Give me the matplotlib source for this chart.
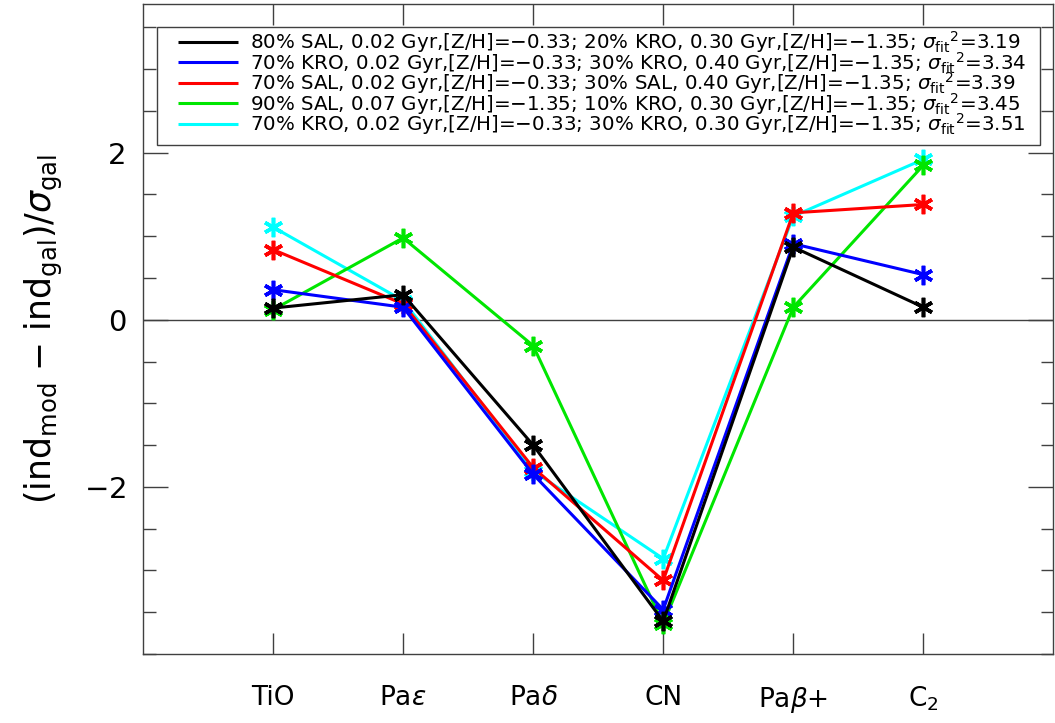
import matplotlib
matplotlib.use('Agg')
import matplotlib.pyplot as plt
from matplotlib.ticker import MultipleLocator, FixedLocator
from matplotlib.patches import Rectangle

# index names along x
indices = ['TiO', r'Pa$\epsilon$', r'Pa$\delta$', 'CN', r'Pa$\beta$+', r'C$_2$']
xpos = [1, 2, 3, 4, 5, 6]

# (ind_mod - ind_gal)/sigma_gal for each model fit
black_vals = [0.14, 0.30, -1.50, -3.61, 0.87, 0.15]
blue_vals = [0.36, 0.15, -1.85, -3.47, 0.91, 0.54]
red_vals = [0.84, 0.19, -1.77, -3.12, 1.28, 1.38]
green_vals = [0.12, 0.98, -0.31, -3.64, 0.15, 1.85]
cyan_vals = [1.11, 0.23, -1.81, -2.86, 1.24, 1.92]

labels = [
  r'80% SAL, 0.02 Gyr,[Z/H]=$-$0.33; 20% KRO, 0.30 Gyr,[Z/H]=$-$1.35; $\sigma_{\rm fit}{}^{2}$=3.19',
  r'70% KRO, 0.02 Gyr,[Z/H]=$-$0.33; 30% KRO, 0.40 Gyr,[Z/H]=$-$1.35; $\sigma_{\rm fit}{}^{2}$=3.34',
  r'70% SAL, 0.02 Gyr,[Z/H]=$-$0.33; 30% SAL, 0.40 Gyr,[Z/H]=$-$1.35; $\sigma_{\rm fit}{}^{2}$=3.39',
  r'90% SAL, 0.07 Gyr,[Z/H]=$-$1.35; 10% KRO, 0.30 Gyr,[Z/H]=$-$1.35; $\sigma_{\rm fit}{}^{2}$=3.45',
  r'70% KRO, 0.02 Gyr,[Z/H]=$-$0.33; 30% KRO, 0.30 Gyr,[Z/H]=$-$1.35; $\sigma_{\rm fit}{}^{2}$=3.51',
]
series = [black_vals, blue_vals, red_vals, green_vals, cyan_vals]
colors = ['#000000', '#0000ff', '#ff0000', '#00e600', '#00ffff']

plt.rcParams['mathtext.fontset'] = 'dejavusans'

fig = plt.figure(figsize=(10.55, 7.23), dpi=100)
ax = fig.add_axes([0.1355, 0.0955, 0.863, 0.899])

ax.axhline(0, color='#404040', lw=1.0, zorder=1)

star = (6, 2, 0)
# draw in reverse so black ends up on top
for i in reversed(range(len(series))):
  ax.plot(xpos, series[i], color=colors[i], lw=2.2, marker=star,
          markersize=14, markeredgewidth=2.6, zorder=2 + (len(series) - i))

ax.set_xlim(0, 7)
ax.set_ylim(-4, 3.78)

ax.xaxis.set_major_locator(FixedLocator(xpos))
ax.set_xticklabels(indices, fontsize=19)
ax.yaxis.set_major_locator(MultipleLocator(2))
ax.yaxis.set_minor_locator(MultipleLocator(0.5))
ax.set_yticks([-2, 0, 2])
ax.set_yticklabels([r'$-$2', '0', '2'], fontsize=21)

ax.tick_params(axis='x', which='major', direction='in', length=15, width=1,
               top=True, bottom=True, pad=22, color='#404040')
ax.tick_params(axis='y', which='major', direction='in', length=18, width=1,
               left=True, right=True, pad=12, color='#404040')
ax.tick_params(axis='y', which='minor', direction='in', length=9, width=1,
               left=True, right=True, color='#404040')

for sp in ax.spines.values():
  sp.set_color('#404040')
  sp.set_linewidth(1.0)

ax.set_ylabel(r'(ind$_{\rm mod}$ $-$ ind$_{\rm gal}$)/$\sigma_{\rm gal}$', fontsize=25, labelpad=14)

# hand-built legend box (IDL style, tight rows)
box = Rectangle((0.0154, 0.783), 0.9696, 0.1816, transform=ax.transAxes,
                facecolor='white', edgecolor='#404040', lw=1.0, zorder=10)
ax.add_patch(box)
row_y = [0.9415, 0.910, 0.8785, 0.847, 0.8155]
for i in range(len(series)):
  ax.plot([0.0384, 0.1043], [row_y[i], row_y[i]], transform=ax.transAxes,
          color=colors[i], lw=2.2, zorder=11, solid_capstyle='butt')
  ax.text(0.1175, row_y[i] - 0.0108, labels[i], transform=ax.transAxes,
          fontsize=14.3, va='baseline', ha='left', zorder=11)

fig.savefig('out.png', dpi=100)
